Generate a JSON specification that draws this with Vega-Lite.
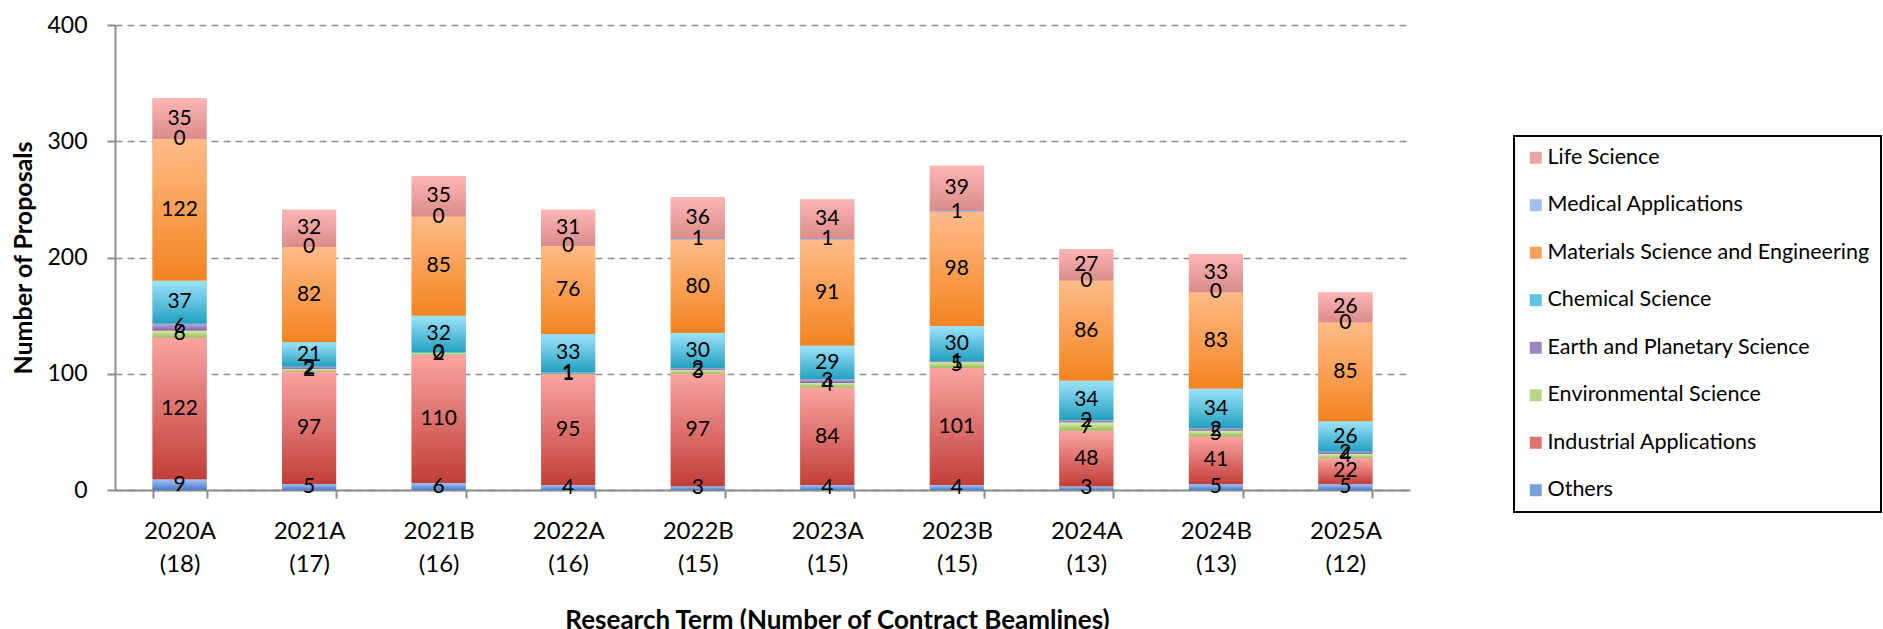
{
  "$schema": "https://vega.github.io/schema/vega-lite/v6.json",
  "width": 1295,
  "height": 465,
  "autosize": {"type": "none"},
  "padding": {"left": 115, "top": 25, "right": 473, "bottom": 139},
  "background": "white",
  "config": {"view": {"stroke": null}, "font": "Lato", "legend": {"strokeWidth": 2}},
  "data": {
    "values": [
      {"term": "2020A (18)", "category": "Others", "value": 9},
      {"term": "2020A (18)", "category": "Industrial Applications", "value": 122},
      {"term": "2020A (18)", "category": "Environmental Science", "value": 6},
      {"term": "2020A (18)", "category": "Earth and Planetary Science", "value": 6},
      {"term": "2020A (18)", "category": "Chemical Science", "value": 37},
      {"term": "2020A (18)", "category": "Materials Science and Engineering", "value": 122},
      {"term": "2020A (18)", "category": "Medical Applications", "value": 0},
      {"term": "2020A (18)", "category": "Life Science", "value": 35},
      {"term": "2021A (17)", "category": "Others", "value": 5},
      {"term": "2021A (17)", "category": "Industrial Applications", "value": 97},
      {"term": "2021A (17)", "category": "Environmental Science", "value": 2},
      {"term": "2021A (17)", "category": "Earth and Planetary Science", "value": 2},
      {"term": "2021A (17)", "category": "Chemical Science", "value": 21},
      {"term": "2021A (17)", "category": "Materials Science and Engineering", "value": 82},
      {"term": "2021A (17)", "category": "Medical Applications", "value": 0},
      {"term": "2021A (17)", "category": "Life Science", "value": 32},
      {"term": "2021B (16)", "category": "Others", "value": 6},
      {"term": "2021B (16)", "category": "Industrial Applications", "value": 110},
      {"term": "2021B (16)", "category": "Environmental Science", "value": 2},
      {"term": "2021B (16)", "category": "Earth and Planetary Science", "value": 0},
      {"term": "2021B (16)", "category": "Chemical Science", "value": 32},
      {"term": "2021B (16)", "category": "Materials Science and Engineering", "value": 85},
      {"term": "2021B (16)", "category": "Medical Applications", "value": 0},
      {"term": "2021B (16)", "category": "Life Science", "value": 35},
      {"term": "2022A (16)", "category": "Others", "value": 4},
      {"term": "2022A (16)", "category": "Industrial Applications", "value": 95},
      {"term": "2022A (16)", "category": "Environmental Science", "value": 1},
      {"term": "2022A (16)", "category": "Earth and Planetary Science", "value": 1},
      {"term": "2022A (16)", "category": "Chemical Science", "value": 33},
      {"term": "2022A (16)", "category": "Materials Science and Engineering", "value": 76},
      {"term": "2022A (16)", "category": "Medical Applications", "value": 0},
      {"term": "2022A (16)", "category": "Life Science", "value": 31},
      {"term": "2022B (15)", "category": "Others", "value": 3},
      {"term": "2022B (15)", "category": "Industrial Applications", "value": 97},
      {"term": "2022B (15)", "category": "Environmental Science", "value": 3},
      {"term": "2022B (15)", "category": "Earth and Planetary Science", "value": 2},
      {"term": "2022B (15)", "category": "Chemical Science", "value": 30},
      {"term": "2022B (15)", "category": "Materials Science and Engineering", "value": 80},
      {"term": "2022B (15)", "category": "Medical Applications", "value": 1},
      {"term": "2022B (15)", "category": "Life Science", "value": 36},
      {"term": "2023A (15)", "category": "Others", "value": 4},
      {"term": "2023A (15)", "category": "Industrial Applications", "value": 84},
      {"term": "2023A (15)", "category": "Environmental Science", "value": 4},
      {"term": "2023A (15)", "category": "Earth and Planetary Science", "value": 3},
      {"term": "2023A (15)", "category": "Chemical Science", "value": 29},
      {"term": "2023A (15)", "category": "Materials Science and Engineering", "value": 91},
      {"term": "2023A (15)", "category": "Medical Applications", "value": 1},
      {"term": "2023A (15)", "category": "Life Science", "value": 34},
      {"term": "2023B (15)", "category": "Others", "value": 4},
      {"term": "2023B (15)", "category": "Industrial Applications", "value": 101},
      {"term": "2023B (15)", "category": "Environmental Science", "value": 5},
      {"term": "2023B (15)", "category": "Earth and Planetary Science", "value": 1},
      {"term": "2023B (15)", "category": "Chemical Science", "value": 30},
      {"term": "2023B (15)", "category": "Materials Science and Engineering", "value": 98},
      {"term": "2023B (15)", "category": "Medical Applications", "value": 1},
      {"term": "2023B (15)", "category": "Life Science", "value": 39},
      {"term": "2024A (13)", "category": "Others", "value": 3},
      {"term": "2024A (13)", "category": "Industrial Applications", "value": 48},
      {"term": "2024A (13)", "category": "Environmental Science", "value": 7},
      {"term": "2024A (13)", "category": "Earth and Planetary Science", "value": 2},
      {"term": "2024A (13)", "category": "Chemical Science", "value": 34},
      {"term": "2024A (13)", "category": "Materials Science and Engineering", "value": 86},
      {"term": "2024A (13)", "category": "Medical Applications", "value": 0},
      {"term": "2024A (13)", "category": "Life Science", "value": 27},
      {"term": "2024B (13)", "category": "Others", "value": 5},
      {"term": "2024B (13)", "category": "Industrial Applications", "value": 41},
      {"term": "2024B (13)", "category": "Environmental Science", "value": 5},
      {"term": "2024B (13)", "category": "Earth and Planetary Science", "value": 2},
      {"term": "2024B (13)", "category": "Chemical Science", "value": 34},
      {"term": "2024B (13)", "category": "Materials Science and Engineering", "value": 83},
      {"term": "2024B (13)", "category": "Medical Applications", "value": 0},
      {"term": "2024B (13)", "category": "Life Science", "value": 33},
      {"term": "2025A (12)", "category": "Others", "value": 5},
      {"term": "2025A (12)", "category": "Industrial Applications", "value": 22},
      {"term": "2025A (12)", "category": "Environmental Science", "value": 4},
      {"term": "2025A (12)", "category": "Earth and Planetary Science", "value": 2},
      {"term": "2025A (12)", "category": "Chemical Science", "value": 26},
      {"term": "2025A (12)", "category": "Materials Science and Engineering", "value": 85},
      {"term": "2025A (12)", "category": "Medical Applications", "value": 0},
      {"term": "2025A (12)", "category": "Life Science", "value": 26}
    ]
  },
  "transform": [
    {"calculate": "indexof(['Others','Industrial Applications','Environmental Science','Earth and Planetary Science','Chemical Science','Materials Science and Engineering','Medical Applications','Life Science'], datum.category)", "as": "stackOrder"},
    {"stack": "value", "groupby": ["term"], "sort": [{"field": "stackOrder", "order": "ascending"}], "as": ["y0", "y1"]},
    {"calculate": "(datum.y0 + datum.y1) / 2", "as": "ymid"}
  ],
  "layer": [
    {
      "encoding": {
        "x": {
          "field": "term", "type": "nominal", "sort": null,
          "scale": {"paddingInner": 0.583, "paddingOuter": 0.29},
          "axis": {
            "title": "Research Term (Number of Contract Beamlines)",
            "labelExpr": "split(datum.label, ' ')",
            "labelAngle": 0,
            "labelFont": "Lato",
            "labelFontSize": 24,
            "labelLineHeight": 33,
            "labelColor": "black",
            "labelPadding": 21,
            "tickBand": "extent",
            "tickSize": 8,
            "tickColor": "#8c8c8c",
            "tickWidth": 2,
            "domainColor": "#8c8c8c",
            "domainWidth": 2,
            "grid": false,
            "titleFont": "Lato",
            "titleFontSize": 26,
            "titleFontWeight": "bold",
            "titleColor": "black",
            "titleX": 722,
            "titleAlign": "center",
            "titleY": 117,
            "titleBaseline": "top"
          }
        },
        "y": {
          "field": "y0", "type": "quantitative",
          "scale": {"domain": [0, 400], "nice": false},
          "axis": {
            "title": "Number of Proposals",
            "values": [0, 100, 200, 300, 400],
            "grid": true,
            "gridColor": "#8c8c8c",
            "gridDash": [7, 5],
            "gridWidth": 1.5,
            "domainColor": "#8c8c8c",
            "domainWidth": 2,
            "tickColor": "#8c8c8c",
            "tickSize": 8,
            "tickWidth": 2,
            "labelFont": "Lato",
            "labelFontSize": 23,
            "labelColor": "black",
            "labelPadding": 20,
            "titleFont": "Lato",
            "titleFontSize": 25,
            "titleFontWeight": "bold",
            "titleColor": "black",
            "titlePadding": 10
          }
        },
        "y2": {"field": "y1"}
      },
      "layer": [
        {
          "mark": {"type": "bar"},
          "encoding": {
            "fill": {
              "field": "category", "type": "nominal",
              "scale": {
                "domain": ["Life Science", "Medical Applications", "Materials Science and Engineering", "Chemical Science", "Earth and Planetary Science", "Environmental Science", "Industrial Applications", "Others"],
                "range": ["#EDA3A1", "#A5C0EC", "#F9A05A", "#5FC2DE", "#9C87C0", "#B6D681", "#DE726E", "#7A9FDD"]
              },
              "legend": {
                "title": null,
                "orient": "none",
                "legendX": 1399,
                "legendY": 111,
                "symbolType": "square",
                "symbolSize": 144,
                "symbolStrokeWidth": 0,
                "labelFont": "Lato",
                "labelFontSize": 21.5,
                "labelColor": "black",
                "labelOffset": 1,
                "labelLimit": 400,
                "rowPadding": 24.5,
                "padding": 11,
                "strokeColor": "black"
              }
            }
          }
        },
        {"transform": [{"filter": "datum.category === 'Life Science'"}], "mark": {"type": "bar", "fill": {"gradient": "linear", "x1": 0, "y1": 0, "x2": 0, "y2": 1, "stops": [{"offset": 0, "color": "#FDB6B5"}, {"offset": 1, "color": "#D98C8A"}]}}},
        {"transform": [{"filter": "datum.category === 'Medical Applications'"}], "mark": {"type": "bar", "fill": {"gradient": "linear", "x1": 0, "y1": 0, "x2": 0, "y2": 1, "stops": [{"offset": 0, "color": "#BAD1F6"}, {"offset": 1, "color": "#8AACE2"}]}}},
        {"transform": [{"filter": "datum.category === 'Materials Science and Engineering'"}], "mark": {"type": "bar", "fill": {"gradient": "linear", "x1": 0, "y1": 0, "x2": 0, "y2": 1, "stops": [{"offset": 0, "color": "#FFBB88"}, {"offset": 1, "color": "#F28420"}]}}},
        {"transform": [{"filter": "datum.category === 'Chemical Science'"}], "mark": {"type": "bar", "fill": {"gradient": "linear", "x1": 0, "y1": 0, "x2": 0, "y2": 1, "stops": [{"offset": 0, "color": "#9DE3FB"}, {"offset": 1, "color": "#22A0C0"}]}}},
        {"transform": [{"filter": "datum.category === 'Earth and Planetary Science'"}], "mark": {"type": "bar", "fill": {"gradient": "linear", "x1": 0, "y1": 0, "x2": 0, "y2": 1, "stops": [{"offset": 0, "color": "#BBA9D9"}, {"offset": 1, "color": "#7D65A8"}]}}},
        {"transform": [{"filter": "datum.category === 'Environmental Science'"}], "mark": {"type": "bar", "fill": {"gradient": "linear", "x1": 0, "y1": 0, "x2": 0, "y2": 1, "stops": [{"offset": 0, "color": "#D7EDAC"}, {"offset": 1, "color": "#95BE56"}]}}},
        {"transform": [{"filter": "datum.category === 'Industrial Applications'"}], "mark": {"type": "bar", "fill": {"gradient": "linear", "x1": 0, "y1": 0, "x2": 0, "y2": 1, "stops": [{"offset": 0, "color": "#F9A4A2"}, {"offset": 1, "color": "#C23E38"}]}}},
        {"transform": [{"filter": "datum.category === 'Others'"}], "mark": {"type": "bar", "fill": {"gradient": "linear", "x1": 0, "y1": 0, "x2": 0, "y2": 1, "stops": [{"offset": 0, "color": "#A3C1F2"}, {"offset": 1, "color": "#4A7BC8"}]}}}
      ]
    },
    {
      "mark": {"type": "text", "font": "Lato", "fontSize": 21, "color": "black", "baseline": "middle", "align": "center"},
      "encoding": {
        "x": {"field": "term", "type": "nominal", "sort": null},
        "y": {"field": "ymid", "type": "quantitative"},
        "text": {"field": "value", "type": "quantitative"}
      }
    }
  ]
}
